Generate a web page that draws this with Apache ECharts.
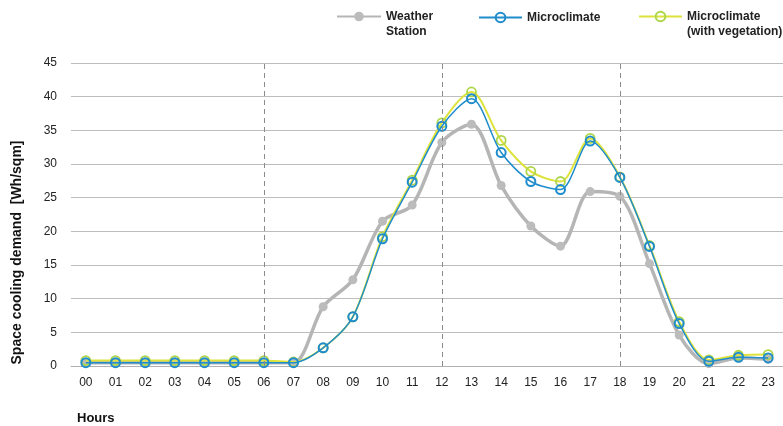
<!DOCTYPE html>
<html>
<head>
<meta charset="utf-8">
<script src="https://cdn.jsdelivr.net/npm/echarts@6/dist/echarts.min.js"></script>
<style>
html,body{margin:0;padding:0;background:#fff;}
#chart{width:783px;height:426px;}
</style>
</head>
<body>
<div id="chart"></div>
<script>
var hours = ['00','01','02','03','04','05','06','07','08','09','10','11','12','13','14','15','16','17','18','19','20','21','22','23'];
var weatherStation = [0.5,0.5,0.5,0.5,0.5,0.5,0.5,0.5,8.8,12.8,21.5,23.9,33.2,35.9,26.8,20.8,17.8,25.9,25.2,15.2,4.6,0.35,1.2,1.0];
var microclimate = [0.5,0.5,0.5,0.5,0.5,0.5,0.5,0.5,2.7,7.3,18.9,27.3,35.6,39.7,31.7,27.4,26.2,33.4,28.0,17.75,6.3,0.7,1.3,1.2];
var microVeg = [0.8,0.8,0.8,0.8,0.8,0.8,0.8,0.6,2.7,7.3,19.2,27.6,36.1,40.7,33.5,28.9,27.4,33.8,28.1,17.9,6.6,0.9,1.6,1.7];
var yTicks = [0,5,10,15,20,25,30,35,40,45];
var markedHours = ['06','12','18'];

var chart = echarts.init(document.getElementById('chart'));
var FONT = 'Liberation Sans, Arial, sans-serif';
var legendText = {fontFamily: FONT, fontSize: 12, fontWeight: 'bold', color: '#222', lineHeight: 15};
function firstLineAtIcon(n) { return '\n' + n; }

chart.setOption({
  animation: false,
  backgroundColor: '#fff',
  title: {
    text: 'Hours', left: 77, top: 412, padding: 0,
    textStyle: {fontFamily: FONT, fontSize: 13, fontWeight: 'bold', color: '#111'}
  },
  legend: [
    {data: ['Weather\nStation'], left: 336, top: -6, padding: 0, itemWidth: 44, itemHeight: 12, textStyle: legendText, formatter: firstLineAtIcon},
    {data: ['Microclimate'], left: 478, top: 10, padding: 0, itemWidth: 43, itemHeight: 12, textStyle: legendText},
    {data: ['Microclimate\n(with vegetation)'], left: 638, top: -6, padding: 0, itemWidth: 43, itemHeight: 12, textStyle: legendText, formatter: firstLineAtIcon}
  ],
  grid: {left: 71, right: 0, top: 63, bottom: 60},
  xAxis: {
    type: 'category',
    data: hours,
    boundaryGap: true,
    axisLine: {show: true, lineStyle: {color: '#b0b0b0', width: 1}},
    axisTick: {show: false},
    axisLabel: {fontFamily: FONT, fontSize: 12, color: '#222', margin: 11}
  },
  yAxis: {
    type: 'value',
    min: yTicks[0], max: yTicks[yTicks.length - 1], interval: 5,
    name: 'Space cooling demand  [Wh/sqm]',
    nameLocation: 'middle',
    nameGap: 47,
    nameTextStyle: {fontFamily: FONT, fontSize: 14, fontWeight: 'bold', color: '#111', padding: [0, 76, 0, 0]},
    axisLine: {show: false},
    axisTick: {show: false},
    axisLabel: {fontFamily: FONT, fontSize: 12, color: '#222', margin: 14},
    splitLine: {lineStyle: {color: '#bdbdbd', width: 1}}
  },
  series: [
    {
      name: 'Weather\nStation', type: 'line', data: weatherStation, smooth: 0.3, z: 2,
      symbol: 'circle', symbolSize: 9,
      lineStyle: {color: '#b5b5b5', width: 3.5},
      itemStyle: {color: '#bcbcbc'},
      markLine: {
        silent: true, symbol: 'none', label: {show: false},
        lineStyle: {color: '#8a8a8a', type: [5, 4], width: 1},
        data: markedHours.map(function (h) { return {xAxis: h}; })
      }
    },
    {
      name: 'Microclimate\n(with vegetation)', type: 'line', data: microVeg, smooth: 0.3, z: 3,
      symbol: 'circle', symbolSize: 9,
      lineStyle: {color: '#dde33a', width: 2},
      itemStyle: {color: 'rgba(255,255,255,0)', borderColor: '#aed64a', borderWidth: 1.8}
    },
    {
      name: 'Microclimate', type: 'line', data: microclimate, smooth: 0.3, z: 4,
      symbol: 'circle', symbolSize: 9,
      lineStyle: {color: '#1f8ccc', width: 1.5},
      itemStyle: {color: 'rgba(255,255,255,0)', borderColor: '#1f8ccc', borderWidth: 2}
    }
  ]
});
</script>
</body>
</html>
